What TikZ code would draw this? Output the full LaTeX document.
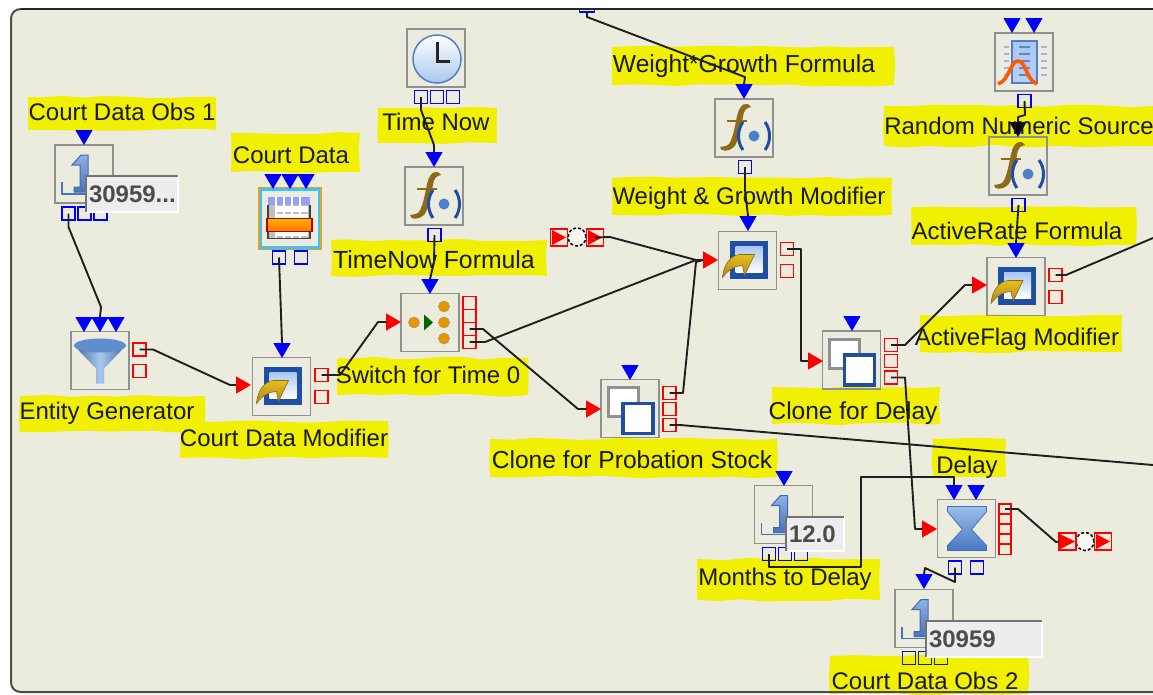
\documentclass[tikz,border=0pt]{standalone}
\usepackage{fontspec}
\setmainfont{Liberation Sans}
\usetikzlibrary{shapes.geometric,decorations.pathmorphing}
\pgfdeclarelayer{back}
\pgfdeclarelayer{top}
\pgfsetlayers{back,main,top}
\definecolor{panel}{HTML}{ECECDE}
\definecolor{hl}{HTML}{F0F000}
\definecolor{boxgray}{HTML}{909090}
\definecolor{iconblue}{HTML}{1F4FA5}
\definecolor{midblue}{HTML}{4F7FC8}
\definecolor{palblue}{HTML}{A9C8EE}
\definecolor{gold}{HTML}{DDA325}
\definecolor{darkgold}{HTML}{8E6A18}
\tikzset{
  block/.style={draw=boxgray,line width=1.8pt,minimum size=58pt,inner sep=0pt,outer sep=0pt},
  bport/.style={draw=blue,line width=1.5pt,minimum size=13pt,inner sep=0pt,outer sep=0pt},
  rport/.style={draw=red,line width=1.5pt,minimum size=13pt,inner sep=0pt,outer sep=0pt},
  btri/.style={regular polygon,regular polygon sides=3,shape border rotate=180,fill=blue,inner sep=0pt,outer sep=0pt,minimum size=20pt},
  rtri/.style={regular polygon,regular polygon sides=3,shape border rotate=-90,fill=red,inner sep=0pt,outer sep=0pt,minimum size=20pt},
  wire/.style={draw=black!88,line width=1.9pt,line join=round},
  labeltext/.style={text=black!90,inner sep=0pt},
  valbox/.style={draw=white,line width=2.5pt,fill=black!7,anchor=north west,inner sep=0pt,outer sep=0pt,font=\bfseries\fontsize{24}{24}\selectfont,text=black!70,align=left},
  link/.style={draw=black,densely dashed,line width=1.5pt,circle,fill=panel!40!white,minimum size=18pt,inner sep=0pt,outer sep=0pt},
  rsq/.style={draw=red,line width=1.6pt,minimum size=17pt,inner sep=0pt,outer sep=0pt},
  pics/fn/.style={code={
    \fill[darkgold] (7,-21) .. controls (3,-27) and (-4,-25) .. (-7,-12) .. controls (-9,-2) and (-11,10) .. (-15,16) .. controls (-18,19) and (-21,18) .. (-24,19) .. controls (-24,24) and (-15,24) .. (-10,19) .. controls (-5,13) and (-3,-2) .. (-1,-11) .. controls (0,-18) and (2,-20) .. (7,-21) -- cycle;
    \draw[darkgold,line width=2.2pt] (-17,-7) -- (3,-7);
    \draw[iconblue,line width=3pt] (-1,-6) .. controls (-7,2) and (-7,14) .. (-1,22);
    \draw[iconblue,line width=3pt] (21,-6) .. controls (27,2) and (27,14) .. (21,22);
    \fill[midblue] (10,8) circle (5.5);
  }},
  pics/oneicon/.style={code={
    \draw[iconblue!80!white,line width=1.7pt] (-22,8) -- (-22,20) -- (3,20);
    \shade[top color=palblue!70!midblue,bottom color=iconblue!80!white,draw=iconblue!85!white,line width=1pt] (-12,-9) -- (-3,-19) -- (4,-19) -- (4,13) -- (9,13) -- (9,18) -- (-10,18) -- (-10,13) -- (-4,13) -- (-4,-9) -- cycle;
  }},
  pics/clockicon/.style={code={
    \shade[top color=white,bottom color=palblue,draw=midblue,line width=1.5pt] (1,1) circle (24);
    \draw[black!85,line width=3pt] (1,-16) -- (1,3) -- (14,3);
  }},
  pics/tableicon/.style={code={
    \fill[black!25] (-22,-22) rectangle (20,20);
    \fill[palblue!60!blue!70!white] (-22,-22) rectangle (20,-14);
    \foreach \q in {-14,-6,2,10} {\draw[white,line width=1.2pt] (\q,-22) -- (\q,20);}
    \foreach \a in {-13,-5,3,11} {\foreach \b in {-13,-5,3,11} {\fill[white] (\a,\b) rectangle +(6.5,6.5);}}
    \draw[black!75,line width=1.2pt] (-22,-14) -- (-22,20) -- (20,20) -- (20,-14);
    \shade[top color=orange!60!yellow,bottom color=orange!90!red,draw=red!70!black,line width=1.6pt] (-23,0) rectangle (22,13);
  }},
  pics/funnelicon/.style={code={
    \shade[left color=midblue!80!black,right color=midblue!80!black,middle color=palblue] (-26,-15) -- (-4,8) -- (-4,23) -- (4,23) -- (4,8) -- (26,-15) -- cycle;
    \fill[midblue!90!white] (0,-15) ellipse (26 and 7);
  }},
  pics/modicon/.style={code={
    \fill[iconblue] (-18,-20) rectangle (20,18);
    \shade[top color=palblue,bottom color=white] (-12,-14) rectangle (15,12);
    \shade[top color=gold!70!yellow,bottom color=gold!80!black,draw=darkgold,line width=.6pt] (-25,17) .. controls (-24,4) and (-17,-5) .. (-8,-6) -- (7,-6) -- (-3,15) -- (-5,5) .. controls (-12,5) and (-19,9) .. (-25,17) -- cycle;
  }},
  pics/cloneicon/.style={code={
    \fill[white,draw=boxgray,line width=3pt] (-22,-21) rectangle (8,8);
    \fill[white,draw=iconblue,line width=3.6pt] (-7,-5) rectangle (23,25);
  }},
  pics/switchicon/.style={code={
    \foreach \a/\b in {-16/0,14/-16,14/0,14/16} {\fill[orange!70!yellow!90!black,draw=darkgold!70,line width=.6pt] (\a,\b) circle (5.5);}
    \fill[green!40!black] (-6,-8) -- (3,0) -- (-6,8) -- cycle;
  }},
  pics/hourglass/.style={code={
    \shade[top color=palblue!85!midblue,bottom color=midblue!85!iconblue,draw=midblue!70!iconblue,line width=.8pt] (-19,-22) -- (20,-22) -- (20,-17) -- (5,1) -- (20,17) -- (20,22) -- (-19,22) -- (-19,17) -- (-4,1) -- (-19,-17) -- cycle;
  }},
  pics/randicon/.style={code={
    \fill[black!8] (-23,-21) rectangle (25,21);
    \shade[top color=palblue,bottom color=palblue!85!white,draw=midblue,line width=1.2pt] (-12,-21) rectangle (13,21);
    \foreach \q in {-15,-8,-1,6,13} {
      \draw[black!30,line width=1.5pt] (-20,\q) -- (-15,\q);
      \draw[black!30,line width=1.5pt] (17,\q) -- (23,\q);
      \draw[iconblue!70,line width=1.5pt] (-5,\q) -- (6,\q);}
    \draw[orange!70!red,line width=3.6pt] (-26,22) .. controls (-14,18) and (-14,-1) .. (-6,-1) .. controls (2,-1) and (2,18) .. (13,22);
  }}
}
\newcommand\btri[3]{\node[btri] (#1) at (#2,{#3+5}) {};}
\newcommand\rtri[3]{\node[rtri] (#1) at ({#2+5},#3) {};}
\newcommand\hilite[5]{\begin{pgfonlayer}{back}\pgfmathsetseed{#5}\fill[hl,decorate,decoration={random steps,segment length=22pt,amplitude=1.4pt}] (#1,#2) rectangle (#3,#4);\end{pgfonlayer}}
\newcommand\lab[5][24]{\begin{pgfonlayer}{top}\node[labeltext,font=\fontsize{#1}{#1}\selectfont] (#2) at (#3,#4) {#5};\end{pgfonlayer}}
\newcommand\val[6]{\node[valbox,text width=#5pt,minimum height=#4pt] (#1) at (#2,#3) {\hspace*{3pt}#6};
  \draw[black!55,line width=2.5pt] (#1.south west) -- (#1.north west) -- (#1.north east);}
\begin{document}
\begin{tikzpicture}[x=1pt,y=-1pt]
\useasboundingbox (0,0) rectangle (1153,694);
\begin{pgfonlayer}{back}
\fill[white] (0,0) rectangle (1153,694);
\fill[panel] (1153,9) -- (21,9) .. controls (15,9) and (11,13) .. (11,19) -- (11,682) .. controls (11,688) and (15,692) .. (21,692) -- (1153,692) -- cycle;
\end{pgfonlayer}
% highlights
\hilite{28}{97}{216}{130}{11}
\hilite{231}{133}{360}{172}{12}
\hilite{378}{108}{497}{143}{13}
\hilite{331}{240}{547}{276}{14}
\hilite{612}{47}{894}{85}{15}
\hilite{612}{178}{892}{215}{16}
\hilite{884}{106}{1153}{146}{17}
\hilite{911}{207}{1136}{245}{18}
\hilite{920}{315}{1122}{352}{19}
\hilite{337}{358}{528}{395}{20}
\hilite{20}{396}{205}{432}{21}
\hilite{180}{421}{388}{458}{22}
\hilite{490}{439}{777}{477}{23}
\hilite{772}{387}{940}{424}{24}
\hilite{933}{439}{1006}{477}{25}
\hilite{697}{559}{880}{600}{26}
\hilite{830}{656}{1028}{694}{27}
% top port
\node[bport,minimum height=8pt,minimum width=15pt] (topport) at (587,8) {};
\fill[white] (560,0) rectangle (615,8);
\draw[black!85,line width=1.6pt] (21,9) -- (1153,9);
\draw[black!70,line width=2pt] (21,9) .. controls (15,9) and (11,13) .. (11,19) -- (11,682) .. controls (11,688) and (15,692) .. (21,692) -- (1153,692);
% blocks
\node[block] (obs1) at (84,174) {};
\node[block] (table) at (290,218.5) {};
\node[block] (funnel) at (100,360.5) {};
\node[block] (cdmod) at (281.5,386.5) {};
\node[block] (switch) at (430,322.5) {};
\node[block] (tnf) at (434,196) {};
\node[block] (clock) at (436,58) {};
\node[block] (wgf) at (744,128) {};
\node[block] (wgmod) at (747.5,260.5) {};
\node[block] (cloneP) at (630,408.5) {};
\node[block] (cloneD) at (851.5,360) {};
\node[block] (afmod) at (1016,286.5) {};
\node[block] (arf) at (1018,166) {};
\node[block] (rand) at (1024,62) {};
\node[block] (months) at (783.5,514.5) {};
\node[block] (delay) at (966.5,528.5) {};
\node[block] (obs2) at (924,618.5) {};
\draw[gold,line width=1.6pt] (259,187.5) rectangle (321,249.5);
\draw[cyan!75!white,line width=2.6pt] (261,189.5) rectangle (319,247.5);
% icons
\pic at (obs1) {oneicon};
\pic at (table) {tableicon};
\pic at (funnel) {funnelicon};
\pic at (cdmod) {modicon};
\pic at (switch) {switchicon};
\pic at (tnf) {fn};
\pic at (clock) {clockicon};
\pic at (wgf) {fn};
\pic at (wgmod) {modicon};
\pic at (cloneP) {cloneicon};
\pic at (cloneD) {cloneicon};
\pic at (afmod) {modicon};
\pic at (arf) {fn};
\pic at (rand) {randicon};
\pic at (months) {oneicon};
\pic at (delay) {hourglass};
\pic at (obs2) {oneicon};
% blue triangles
\btri{t1}{84}{130}
\btri{t2a}{273}{174}\btri{t2b}{290}{174}\btri{t2c}{306}{174}
\btri{t3a}{84}{317}\btri{t3b}{100}{317}\btri{t3c}{116}{317}
\btri{t4}{282}{343}
\btri{t5}{430}{279}
\btri{t6}{434}{152}
\btri{t7}{744}{84}
\btri{t8}{748}{216}
\btri{t9}{630}{365}
\btri{t10}{852}{316}
\btri{t11}{1016}{243}
\btri{t12}{1018}{122}
\btri{t13a}{1012}{18}\btri{t13b}{1034}{18}
\btri{t14}{784}{471}
\btri{t15a}{954}{485}\btri{t15b}{976}{485}
\btri{t16}{924}{574}
% red triangles
\rtri{r1}{236}{385}
\rtri{r2}{386}{322}
\rtri{r3}{703}{260}
\rtri{r4}{586}{409}
\rtri{r5}{808}{361}
\rtri{r6}{972}{285}
\rtri{r7}{922}{529}
% blue ports
\node[bport] (obs1a) at (68.5,213.5) {};
\node[bport] (obs1b) at (84.5,213.5) {};
\node[bport] (obs1c) at (100.5,213.5) {};
\node[bport] (tabA) at (279,257.5) {};
\node[bport] (tabB) at (301,257.5) {};
\node[bport] (tnfp) at (434.5,235) {};
\node[bport] (clkA) at (421,97) {};
\node[bport] (clkB) at (437,97) {};
\node[bport] (clkC) at (453,97) {};
\node[bport] (wgfp) at (745,167) {};
\node[bport] (arfp) at (1018.5,205) {};
\node[bport] (randp) at (1024.5,101) {};
\node[bport] (monA) at (769,554) {};
\node[bport] (monB) at (785,554) {};
\node[bport] (monC) at (801,554) {};
\node[bport] (delA) at (955,567.5) {};
\node[bport] (delB) at (977,567.5) {};
\node[bport,draw=iconblue!50!black] (ob2a) at (909,658) {};
\node[bport,draw=iconblue!50!black] (ob2b) at (925,658) {};
\node[bport,draw=iconblue!50!black] (ob2c) at (941,658) {};
% red ports
\node[rport] (fnA) at (139.5,349.5) {};
\node[rport] (fnB) at (139.5,371) {};
\node[rport] (cdA) at (321.5,375) {};
\node[rport] (cdB) at (321.5,397) {};
\node[rport] (swA) at (469.5,303) {};
\node[rport] (swB) at (469.5,316) {};
\node[rport] (swC) at (469.5,329) {};
\node[rport] (swD) at (469.5,342) {};
\node[rport] (wgA) at (787,249) {};
\node[rport] (wgB) at (787,271) {};
\node[rport] (cpA) at (669.5,393) {};
\node[rport] (cpB) at (669.5,409) {};
\node[rport] (cpC) at (669.5,425) {};
\node[rport] (cdlA) at (891,345) {};
\node[rport] (cdlB) at (891,361) {};
\node[rport] (cdlC) at (891,377.5) {};
\node[rport] (afA) at (1055.5,275) {};
\node[rport] (afB) at (1055.5,297) {};
\node[rport,minimum size=10.5pt,minimum width=12pt] (dlA) at (1005,509) {};
\node[rport,minimum size=10.5pt,minimum width=12pt] (dlB) at (1005,519) {};
\node[rport,minimum size=10.5pt,minimum width=12pt] (dlC) at (1005,529) {};
\node[rport,minimum size=10.5pt,minimum width=12pt] (dlD) at (1005,539) {};
\node[rport,minimum size=10.5pt,minimum width=12pt] (dlE) at (1005,549) {};
% off-page links
\node[link] (lk1) at (577,237) {};
\node[rsq] (lk1a) at (559,237.5) {};
\node[rsq] (lk1b) at (595,237.5) {};
\fill[red] (552,230) -- (566,237.5) -- (552,245) -- cycle;
\fill[red] (588,230) -- (602,237.5) -- (588,245) -- cycle;
\node[link] (lk2) at (1085,541.5) {};
\node[rsq] (lk2a) at (1067.5,541.5) {};
\node[rsq] (lk2b) at (1103,541.5) {};
\fill[red] (1060,534) -- (1075,541.5) -- (1060,549) -- cycle;
\fill[red] (1096,534) -- (1110,541.5) -- (1096,549) -- cycle;
% free ends
\coordinate (eastA) at (1153,238);
\coordinate (eastB) at (1153,465);
% connectors
\draw[wire] (topport.south) -- (587,17) -- (745,77) -- (t7.side 2);
\draw[wire] (obs1a.center) -- (68.5,227) -- (101,307) -- (t3b.side 2);
\draw[wire] (tabA.center) -- (t4.side 2);
\draw[wire] (fnA.center) -- (153,349.5) -- (230,385) -- (r1.side 2);
\draw[wire] (cdA.center) -- (340,375) -- (378,322) -- (r2.side 2);
\draw[wire] (clkA.center) -- (421,110) -- (434,145) -- (t6.side 2);
\draw[wire] (tnfp.center) -- (434,262) -- (t5.side 2);
\draw[wire] (swC.center) -- (483,329) -- (578,409) -- (r4.side 2);
\draw[wire] (swD.center) -- (485,342) -- (696,260) -- (r3.side 2);
\draw[wire] (lk1b.center) -- (610,237) -- (696,260) -- (r3.side 2);
\draw[wire] (cpA.center) -- (683,393) -- (696,262) -- (r3.side 2);
\draw[wire] (cpC.center) -- (680,425) -- (eastB);
\draw[wire] (wgfp.center) -- (745,190) -- (t8.side 2);
\draw[wire] (wgA.center) -- (801,249) -- (801,361) -- (r5.side 2);
\draw[wire] (cdlA.center) -- (905,345) -- (965,285) -- (r6.side 2);
\draw[wire] (cdlC.center) -- (905,377.5) -- (915,529) -- (r7.side 2);
\draw[wire] (monA.center) -- (769,567) -- (861,567) -- (861,477) -- (954,477) -- (t15a.side 2);
\draw[wire] (delA.center) -- (955,582) -- (925,568) -- (t16.side 2);
\draw[wire] (dlA.center) -- (1018,509) -- (1056,542) -- (lk2a.west);
\draw[wire] (afA.center) -- (1066,275) -- (eastA);
\draw[wire] (randp.center) -- (1025,115) -- (1018,117) -- (t12.side 2);
\fill[black] (1010,122) -- (1026,122) -- (1018,135) -- cycle;
\draw[wire] (arfp.center) -- (t11.side 2);
% value boxes
\val{v1}{86}{176}{36}{92}{30959...}
\val{v2}{786}{517}{34}{58}{12.0}
\val{v3}{926}{621}{36}{116}{30959}
% labels
\lab{l1}{122}{112}{Court Data Obs 1}
\lab{l2}{291}{155}{Court Data}
\lab{l3}{436}{122}{Time Now}
\lab[24.8]{l4}{434}{260}{TimeNow Formula}
\lab[24.6]{l5}{744}{66}{Weight*Growth Formula}
\lab{l6}{749}{198}{Weight \& Growth Modifier}
\lab{l7}{1019}{126}{Random Numeric Source}
\lab{l8}{1017}{231}{ActiveRate Formula}
\lab{l9}{1017}{339}{ActiveFlag Modifier}
\lab{l10}{428}{375}{Switch for Time 0}
\lab{l11}{107}{413}{Entity Generator}
\lab{l12}{284}{438}{Court Data Modifier}
\lab[24.6]{l13}{632}{460}{Clone for Probation Stock}
\lab[24.5]{l14}{853}{413}{Clone for Delay}
\lab{l15}{967}{467}{Delay}
\lab{l16}{785}{579}{Months to Delay}
\lab{l17}{925}{681}{Court Data Obs 2}
\end{tikzpicture}
\end{document}
